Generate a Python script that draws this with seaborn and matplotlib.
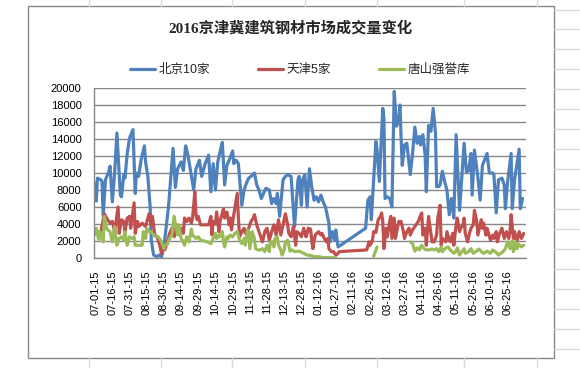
import matplotlib
matplotlib.use("Agg")
import matplotlib.pyplot as plt
from matplotlib.lines import Line2D
from matplotlib.patches import Rectangle
import seaborn as sns
import pandas as pd

title = "2016京津冀建筑钢材市场成交量变化"
series_names = ["北京10家", "天津5家", "唐山强誉库"]
series_colors = ["#4F81BD", "#C0504D", "#9BBB59"]
tick_labels = ["07-01-15", "07-16-15", "07-31-15", "08-15-15", "08-30-15", "09-14-15",
               "09-29-15", "10-14-15", "10-29-15", "11-13-15", "11-28-15", "12-13-15",
               "12-28-15", "01-12-16", "01-27-16", "02-11-16", "02-26-16", "03-12-16",
               "03-27-16", "04-11-16", "04-26-16", "05-11-16", "05-26-16", "06-10-16",
               "06-25-16"]
y_ticks = [0, 2000, 4000, 6000, 8000, 10000, 12000, 14000, 16000, 18000, 20000]

beijing = [
    ("2015-07-01", 8800), ("2015-07-02", 6700), ("2015-07-03", 9400), ("2015-07-06", 9200),
    ("2015-07-07", 9000), ("2015-07-08", 4900), ("2015-07-10", 9200), ("2015-07-13", 10200),
    ("2015-07-14", 10800), ("2015-07-16", 6600), ("2015-07-18", 10000), ("2015-07-20", 14700),
    ("2015-07-23", 7400), ("2015-07-24", 7200), ("2015-07-26", 9800), ("2015-07-27", 9400),
    ("2015-07-29", 12300), ("2015-07-31", 14100), ("2015-08-03", 15100), ("2015-08-05", 7600),
    ("2015-08-06", 10000), ("2015-08-08", 9600), ("2015-08-10", 11500), ("2015-08-13", 13200),
    ("2015-08-14", 11300), ("2015-08-16", 9600), ("2015-08-18", 6000), ("2015-08-19", 2100),
    ("2015-08-21", 350), ("2015-08-24", 150), ("2015-08-26", 350), ("2015-08-28", 150),
    ("2015-08-30", 1300), ("2015-09-03", 6000), ("2015-09-07", 12900), ("2015-09-09", 8300),
    ("2015-09-11", 10500), ("2015-09-14", 11300), ("2015-09-16", 10300), ("2015-09-18", 13200),
    ("2015-09-20", 12100), ("2015-09-23", 9600), ("2015-09-25", 8000), ("2015-09-27", 10500),
    ("2015-09-30", 11500), ("2015-10-02", 9600), ("2015-10-05", 11100), ("2015-10-08", 12100),
    ("2015-10-10", 7800), ("2015-10-12", 11100), ("2015-10-14", 8000), ("2015-10-16", 11300),
    ("2015-10-18", 12500), ("2015-10-20", 13600), ("2015-10-22", 8600), ("2015-10-24", 10900),
    ("2015-10-26", 11500), ("2015-10-29", 12600), ("2015-10-30", 11100), ("2015-11-01", 11500),
    ("2015-11-03", 11100), ("2015-11-06", 6200), ("2015-11-08", 8000), ("2015-11-10", 8800),
    ("2015-11-12", 9400), ("2015-11-14", 9600), ("2015-11-17", 10000), ("2015-11-19", 8600),
    ("2015-11-21", 8000), ("2015-11-23", 7000), ("2015-11-25", 7600), ("2015-11-27", 8200),
    ("2015-11-30", 8000), ("2015-12-02", 6400), ("2015-12-04", 7000), ("2015-12-06", 6400),
    ("2015-12-07", 7600), ("2015-12-09", 4900), ("2015-12-12", 9200), ("2015-12-14", 9600),
    ("2015-12-16", 9800), ("2015-12-19", 9600), ("2015-12-22", 3700), ("2015-12-25", 9200),
    ("2015-12-26", 9600), ("2015-12-28", 6200), ("2015-12-29", 9200), ("2015-12-31", 9800),
    ("2016-01-02", 6000), ("2016-01-04", 10500), ("2016-01-06", 8400), ("2016-01-08", 6800),
    ("2016-01-10", 7200), ("2016-01-12", 6600), ("2016-01-14", 7400), ("2016-01-16", 6600),
    ("2016-01-18", 6000), ("2016-01-21", 4100), ("2016-01-22", 1900), ("2016-01-24", 3100),
    ("2016-01-26", 2100), ("2016-01-27", 3300), ("2016-01-29", 1300), ("2016-02-22", 3500),
    ("2016-02-24", 6800), ("2016-02-26", 7200), ("2016-02-27", 4500), ("2016-02-29", 9200),
    ("2016-03-02", 13700), ("2016-03-03", 12800), ("2016-03-05", 9000), ("2016-03-08", 17600),
    ("2016-03-09", 16400), ("2016-03-10", 7000), ("2016-03-12", 7200), ("2016-03-14", 7000),
    ("2016-03-16", 6000), ("2016-03-18", 19600), ("2016-03-20", 15500), ("2016-03-22", 16400),
    ("2016-03-23", 18000), ("2016-03-24", 14100), ("2016-03-25", 10900), ("2016-03-27", 13300),
    ("2016-03-29", 13500), ("2016-04-01", 9800), ("2016-04-03", 12300), ("2016-04-05", 15400),
    ("2016-04-07", 13500), ("2016-04-09", 14300), ("2016-04-10", 13300), ("2016-04-12", 14500),
    ("2016-04-14", 12100), ("2016-04-15", 7800), ("2016-04-17", 15600), ("2016-04-19", 14900),
    ("2016-04-21", 17600), ("2016-04-23", 14700), ("2016-04-24", 8400), ("2016-04-26", 8400),
    ("2016-04-27", 8600), ("2016-04-29", 10200), ("2016-05-01", 9000), ("2016-05-03", 8000),
    ("2016-05-05", 5100), ("2016-05-07", 7000), ("2016-05-09", 4700), ("2016-05-11", 14500),
    ("2016-05-14", 5600), ("2016-05-18", 13500), ("2016-05-20", 10100), ("2016-05-22", 10300),
    ("2016-05-24", 12300), ("2016-05-25", 7400), ("2016-05-27", 12700), ("2016-05-30", 9500),
    ("2016-06-01", 6800), ("2016-06-03", 10900), ("2016-06-07", 12300), ("2016-06-09", 10000),
    ("2016-06-12", 10000), ("2016-06-13", 9800), ("2016-06-15", 5300), ("2016-06-17", 9200),
    ("2016-06-20", 9400), ("2016-06-22", 8600), ("2016-06-23", 5800), ("2016-06-25", 9000),
    ("2016-06-28", 12300), ("2016-06-29", 5800), ("2016-07-01", 9200), ("2016-07-05", 12800),
    ("2016-07-06", 5800), ("2016-07-08", 7000),
]

tianjin = [
    ("2015-07-01", 2800), ("2015-07-04", 3000), ("2015-07-06", 3100), ("2015-07-09", 5200),
    ("2015-07-11", 4700), ("2015-07-14", 4100), ("2015-07-16", 4300), ("2015-07-18", 3100),
    ("2015-07-21", 6000), ("2015-07-22", 2900), ("2015-07-24", 4500), ("2015-07-26", 4300),
    ("2015-07-27", 3100), ("2015-07-29", 4700), ("2015-07-31", 4900), ("2015-08-01", 3500),
    ("2015-08-04", 6500), ("2015-08-05", 2900), ("2015-08-07", 4300), ("2015-08-08", 3700),
    ("2015-08-11", 4100), ("2015-08-14", 3700), ("2015-08-17", 5200), ("2015-08-19", 3900),
    ("2015-08-20", 4900), ("2015-08-22", 2700), ("2015-08-24", 2500), ("2015-08-26", 1700),
    ("2015-08-28", 500), ("2015-08-29", 1500), ("2015-08-31", 1000), ("2015-09-02", 1900),
    ("2015-09-04", 2900), ("2015-09-06", 3500), ("2015-09-08", 2500), ("2015-09-10", 3900),
    ("2015-09-12", 3100), ("2015-09-14", 3500), ("2015-09-16", 2900), ("2015-09-17", 4700),
    ("2015-09-19", 4300), ("2015-09-21", 4700), ("2015-09-23", 4100), ("2015-09-24", 4700),
    ("2015-09-26", 7800), ("2015-09-27", 5100), ("2015-09-28", 4500), ("2015-09-29", 4900),
    ("2015-10-01", 3900), ("2015-10-04", 3900), ("2015-10-08", 3900), ("2015-10-10", 4900),
    ("2015-10-11", 2700), ("2015-10-12", 4300), ("2015-10-14", 4000), ("2015-10-15", 5400),
    ("2015-10-17", 3100), ("2015-10-18", 4300), ("2015-10-21", 5800), ("2015-10-22", 4700),
    ("2015-10-24", 5400), ("2015-10-26", 3900), ("2015-10-27", 4700), ("2015-10-28", 3300),
    ("2015-10-30", 5100), ("2015-11-02", 7600), ("2015-11-03", 4700), ("2015-11-04", 2500),
    ("2015-11-06", 3100), ("2015-11-08", 3500), ("2015-11-09", 2900), ("2015-11-12", 3500),
    ("2015-11-14", 4300), ("2015-11-16", 4700), ("2015-11-17", 5100), ("2015-11-19", 3900),
    ("2015-11-21", 3100), ("2015-11-24", 1900), ("2015-11-26", 3100), ("2015-11-28", 3500),
    ("2015-11-30", 2100), ("2015-12-02", 3100), ("2015-12-04", 3900), ("2015-12-06", 2700),
    ("2015-12-08", 4500), ("2015-12-10", 2700), ("2015-12-12", 3900), ("2015-12-14", 5200),
    ("2015-12-16", 3900), ("2015-12-17", 2900), ("2015-12-19", 2500), ("2015-12-21", 3700),
    ("2015-12-23", 1500), ("2015-12-24", 3100), ("2015-12-26", 2900), ("2015-12-28", 2500),
    ("2015-12-30", 3500), ("2016-01-01", 2500), ("2016-01-02", 2900), ("2016-01-03", 3500),
    ("2016-01-05", 3400), ("2016-01-06", 2100), ("2016-01-07", 1100), ("2016-01-09", 2700),
    ("2016-01-12", 3100), ("2016-01-14", 2700), ("2016-01-15", 2900), ("2016-01-17", 2300),
    ("2016-01-19", 1900), ("2016-01-20", 2300), ("2016-01-21", 1100), ("2016-01-23", 750),
    ("2016-01-25", 750), ("2016-01-27", 350), ("2016-01-28", 400), ("2016-01-30", 750),
    ("2016-02-23", 950), ("2016-02-25", 1900), ("2016-02-26", 1500), ("2016-02-28", 2100),
    ("2016-02-29", 3100), ("2016-03-02", 3000), ("2016-03-04", 4500), ("2016-03-06", 4900),
    ("2016-03-07", 5300), ("2016-03-08", 4300), ("2016-03-09", 1100), ("2016-03-11", 3500),
    ("2016-03-12", 2500), ("2016-03-14", 4300), ("2016-03-15", 4900), ("2016-03-16", 2300),
    ("2016-03-18", 4700), ("2016-03-19", 2300), ("2016-03-22", 4300), ("2016-03-24", 4300),
    ("2016-03-26", 3100), ("2016-03-27", 2300), ("2016-03-29", 3100), ("2016-03-31", 3500),
    ("2016-04-01", 2700), ("2016-04-03", 3300), ("2016-04-04", 3500), ("2016-04-06", 3900),
    ("2016-04-08", 4300), ("2016-04-09", 4700), ("2016-04-11", 5300), ("2016-04-12", 2700),
    ("2016-04-14", 3500), ("2016-04-15", 1500), ("2016-04-17", 4900), ("2016-04-18", 3900),
    ("2016-04-20", 1900), ("2016-04-22", 1900), ("2016-04-24", 2700), ("2016-04-25", 4700),
    ("2016-04-27", 6200), ("2016-04-28", 1500), ("2016-04-29", 2300), ("2016-05-02", 1900),
    ("2016-05-03", 3100), ("2016-05-05", 2100), ("2016-05-06", 1900), ("2016-05-08", 2900),
    ("2016-05-09", 1500), ("2016-05-11", 3900), ("2016-05-12", 4700), ("2016-05-14", 3100),
    ("2016-05-15", 3500), ("2016-05-17", 3900), ("2016-05-18", 4700), ("2016-05-19", 2900),
    ("2016-05-21", 1900), ("2016-05-23", 3100), ("2016-05-24", 3500), ("2016-05-26", 3900),
    ("2016-05-27", 5600), ("2016-05-29", 4300), ("2016-05-30", 2700), ("2016-06-02", 4500),
    ("2016-06-03", 3500), ("2016-06-04", 4100), ("2016-06-06", 2700), ("2016-06-07", 3500),
    ("2016-06-10", 2100), ("2016-06-12", 2700), ("2016-06-13", 2300), ("2016-06-15", 3100),
    ("2016-06-16", 1900), ("2016-06-18", 2900), ("2016-06-20", 3500), ("2016-06-22", 2300),
    ("2016-06-24", 3100), ("2016-06-26", 2300), ("2016-06-27", 3100), ("2016-06-28", 5100),
    ("2016-06-30", 2300), ("2016-07-01", 3100), ("2016-07-03", 1900), ("2016-07-05", 3100),
    ("2016-07-07", 2300), ("2016-07-09", 2900),
]

tangshan = [
    ("2015-07-01", 2900), ("2015-07-02", 3500), ("2015-07-04", 2200), ("2015-07-05", 3100),
    ("2015-07-06", 2500), ("2015-07-08", 1900), ("2015-07-09", 4900), ("2015-07-11", 3500),
    ("2015-07-12", 3300), ("2015-07-14", 3100), ("2015-07-16", 1900), ("2015-07-18", 3700),
    ("2015-07-20", 1500), ("2015-07-22", 2300), ("2015-07-24", 2500), ("2015-07-26", 2100),
    ("2015-07-27", 3100), ("2015-07-29", 1500), ("2015-07-31", 2500), ("2015-08-02", 2300),
    ("2015-08-04", 2500), ("2015-08-05", 1500), ("2015-08-08", 1500), ("2015-08-11", 1500),
    ("2015-08-12", 3100), ("2015-08-14", 2300), ("2015-08-15", 3500), ("2015-08-17", 3100),
    ("2015-08-19", 3100), ("2015-08-21", 2700), ("2015-08-23", 2500), ("2015-08-25", 2500),
    ("2015-08-28", 1900), ("2015-08-30", 1100), ("2015-08-31", 1500), ("2015-09-02", 1600),
    ("2015-09-04", 2300), ("2015-09-06", 2700), ("2015-09-08", 4900), ("2015-09-09", 3900),
    ("2015-09-11", 2700), ("2015-09-12", 3900), ("2015-09-14", 2300), ("2015-09-15", 2100),
    ("2015-09-17", 1500), ("2015-09-19", 2500), ("2015-09-21", 1900), ("2015-09-23", 3400),
    ("2015-09-24", 2700), ("2015-09-27", 2300), ("2015-09-29", 2500), ("2015-10-01", 2100),
    ("2015-10-04", 2000), ("2015-10-07", 1900), ("2015-10-10", 1700), ("2015-10-12", 2300),
    ("2015-10-14", 2900), ("2015-10-15", 2300), ("2015-10-17", 2700), ("2015-10-18", 2500),
    ("2015-10-20", 3100), ("2015-10-21", 1900), ("2015-10-22", 1300), ("2015-10-24", 2500),
    ("2015-10-25", 2300), ("2015-10-27", 2700), ("2015-10-29", 2500), ("2015-10-31", 2900),
    ("2015-11-02", 3100), ("2015-11-04", 2100), ("2015-11-06", 1700), ("2015-11-08", 2300),
    ("2015-11-09", 1500), ("2015-11-11", 3300), ("2015-11-12", 3100), ("2015-11-13", 1100),
    ("2015-11-15", 3100), ("2015-11-17", 2300), ("2015-11-18", 1100), ("2015-11-20", 950),
    ("2015-11-22", 950), ("2015-11-24", 1100), ("2015-11-26", 750), ("2015-11-28", 1500),
    ("2015-11-30", 750), ("2015-12-01", 1900), ("2015-12-03", 1900), ("2015-12-04", 1300),
    ("2015-12-05", 2300), ("2015-12-07", 2500), ("2015-12-08", 1500), ("2015-12-10", 950),
    ("2015-12-11", 350), ("2015-12-13", 950), ("2015-12-14", 1900), ("2015-12-16", 2100),
    ("2015-12-17", 1500), ("2015-12-18", 800), ("2015-12-20", 950), ("2015-12-22", 750),
    ("2015-12-25", 800), ("2015-12-27", 750), ("2015-12-30", 550), ("2016-01-02", 350),
    ("2016-01-05", 300), ("2016-01-08", 150), ("2016-01-12", 150), ("2016-01-17", 40),
    ("2016-01-22", 40), ("2016-01-27", 30), ("2016-02-10", None), ("2016-02-29", 200),
    ("2016-03-03", 1300), ("2016-03-15", None), ("2016-04-01", 1900), ("2016-04-03", 1700),
    ("2016-04-05", 800), ("2016-04-07", 1200), ("2016-04-09", 950), ("2016-04-10", 1300),
    ("2016-04-11", 1500), ("2016-04-13", 1100), ("2016-04-15", 950), ("2016-04-17", 950),
    ("2016-04-20", 1050), ("2016-04-22", 950), ("2016-04-24", 1100), ("2016-04-26", 750),
    ("2016-04-28", 1300), ("2016-04-29", 750), ("2016-05-02", 1200), ("2016-05-04", 1300),
    ("2016-05-06", 950), ("2016-05-09", 550), ("2016-05-11", 800), ("2016-05-12", 1200),
    ("2016-05-14", 350), ("2016-05-16", 750), ("2016-05-18", 1100), ("2016-05-19", 550),
    ("2016-05-22", 750), ("2016-05-24", 1100), ("2016-05-26", 550), ("2016-05-28", 750),
    ("2016-05-31", 1050), ("2016-06-02", 750), ("2016-06-04", 550), ("2016-06-07", 800),
    ("2016-06-10", 550), ("2016-06-12", 950), ("2016-06-15", 650), ("2016-06-17", 350),
    ("2016-06-19", 550), ("2016-06-21", 750), ("2016-06-23", 1100), ("2016-06-25", 1900),
    ("2016-06-27", 1100), ("2016-06-29", 2000), ("2016-06-30", 750), ("2016-07-02", 1900),
    ("2016-07-03", 1100), ("2016-07-05", 1600), ("2016-07-07", 1300), ("2016-07-09", 1500),
]

W, H = 580, 368
sns.set_theme(style="white")
plt.rcParams["font.family"] = ["Liberation Sans", "Noto Sans CJK SC"]

fig = plt.figure(figsize=(W / 100, H / 100), dpi=100)
fig.patch.set_facecolor("white")

# spreadsheet grid visible around the chart object
grid_c = "#D5D9E0"
for gx in [89, 161, 232, 304.5, 377, 464, 536.5]:
    fig.add_artist(Line2D([gx / W, gx / W], [1, 1 - 6 / H], color=grid_c, lw=1))
    fig.add_artist(Line2D([gx / W, gx / W], [0, 1 - 358 / H], color=grid_c, lw=1))
for gy in [9.5, 29, 49, 69, 89, 109, 129, 149, 169, 189, 209, 229, 249, 269, 289, 309, 329, 349]:
    fig.add_artist(Line2D([554 / W, 1], [1 - gy / H, 1 - gy / H], color=grid_c, lw=1))

# chart object frame
fig.add_artist(Rectangle((28 / W, 1 - 358 / H), (554 - 28) / W, (358 - 6) / H,
                         transform=fig.transFigure, fill=False, edgecolor="#888888", lw=1))

ax = fig.add_axes([94 / W, 1 - 258 / H, (526 - 94) / W, (258 - 88) / H])
ax.set_facecolor("none")

datasets = [beijing, tianjin, tangshan]
for name, color, data in zip(series_names, series_colors, datasets):
    df = pd.DataFrame(data, columns=["date", "value"])
    df["date"] = pd.to_datetime(df["date"])
    df["value"] = pd.to_numeric(df["value"])
    df["seg"] = df["value"].isna().cumsum()
    df = df.dropna()
    sns.lineplot(data=df, x="date", y="value", units="seg", estimator=None,
                 color=color, lw=2.3, ax=ax, solid_joinstyle="round",
                 solid_capstyle="round")

ax.set_xlim(pd.Timestamp("2015-06-30"), pd.Timestamp("2016-07-11"))
ax.set_ylim(0, 20000)
ax.set_yticks(y_ticks)
ax.set_yticklabels([str(v) for v in y_ticks])
tick_dates = pd.to_datetime(tick_labels, format="%m-%d-%y")
ax.set_xticks(tick_dates)
ax.set_xticklabels(tick_labels, rotation=90)
ax.set_xlabel("")
ax.set_ylabel("")
ax.yaxis.grid(True, color="#878787", lw=1)
ax.xaxis.grid(False)
ax.set_axisbelow(True)
for s in ["top", "right"]:
    ax.spines[s].set_visible(False)
for s in ["left", "bottom"]:
    ax.spines[s].set_color("#878787")
    ax.spines[s].set_linewidth(1)
ax.tick_params(axis="y", length=0, pad=9, labelsize=8, labelcolor="#000000")
ax.tick_params(axis="x", length=0, pad=9, labelsize=8, labelcolor="#000000")

fig.text(290 / W, 1 - 28 / H, title, ha="center", va="center", fontsize=11,
         fontweight="bold", family=["Liberation Serif", "Noto Sans CJK SC"])

handles = [Line2D([], [], color=c, lw=2.3) for c in series_colors]
fig.legend(handles, series_names, loc="center", bbox_to_anchor=(300 / W, 1 - 70 / H),
           ncol=3, frameon=False, fontsize=9, handlelength=2.0, handletextpad=0.3,
           columnspacing=3.8)

fig.savefig("out.png", dpi=100, facecolor="white")
